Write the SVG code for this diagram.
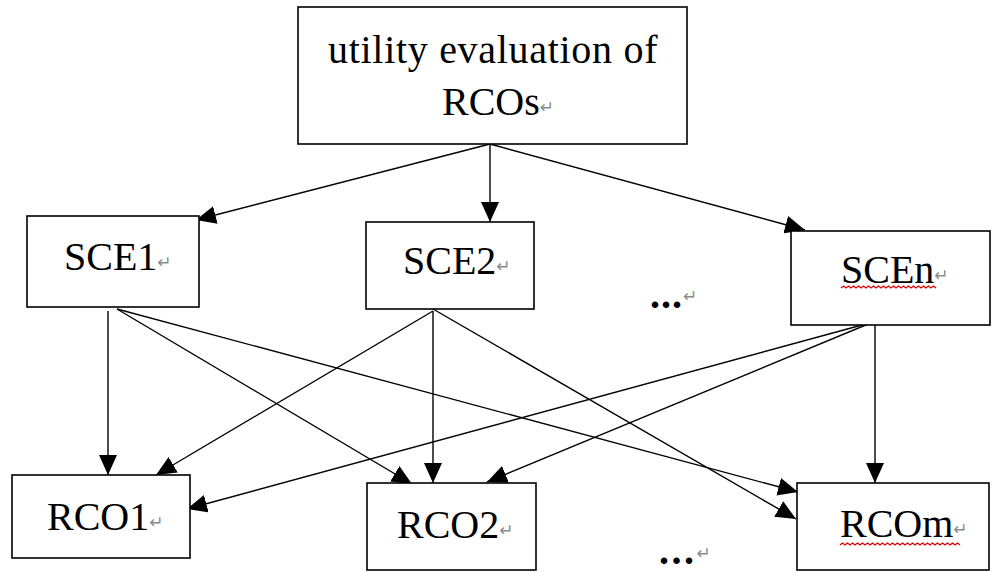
<svg xmlns="http://www.w3.org/2000/svg" width="992" height="572" viewBox="0 0 992 572">
  <style>
    .box { fill: #ffffff; stroke: #000000; stroke-width: 1.6; }
    .lbl { font-family: "Liberation Serif", "Times New Roman", serif; font-size: 40px; fill: #000000; }
    .ret { font-family: "DejaVu Sans", sans-serif; font-size: 17px; fill: #8a8a8a; font-weight: normal; letter-spacing: 0; }
    .dots { font-family: "Liberation Serif", "Times New Roman", serif; font-size: 40px; font-weight: bold; fill: #000000; }
    .wave { fill: none; stroke: #e00000; stroke-width: 1.2; }
    .edge { fill: none; stroke: #000000; stroke-width: 1.4; marker-end: url(#arrow); }
  </style>
  <defs>
    <marker id="arrow" viewBox="0 0 20 18" refX="20" refY="9" markerWidth="20" markerHeight="18" markerUnits="userSpaceOnUse" orient="auto">
      <path d="M0,0 L20,9 L0,18 Z" fill="#000000"/>
    </marker>
  </defs>

  <rect width="992" height="572" fill="#ffffff"/>

  <!-- connectors -->
  <g id="connectors">
    <line class="edge" x1="490" y1="144" x2="196" y2="220"/>
    <line class="edge" x1="490" y1="144" x2="490" y2="222"/>
    <line class="edge" x1="490" y1="144" x2="805" y2="230"/>

    <line class="edge" x1="108" y1="311" x2="108" y2="475"/>
    <line class="edge" x1="117" y1="309" x2="412" y2="484"/>
    <line class="edge" x1="117" y1="309" x2="798" y2="492"/>

    <line class="edge" x1="433" y1="311" x2="156" y2="475"/>
    <line class="edge" x1="433" y1="311" x2="433" y2="483"/>
    <line class="edge" x1="433" y1="309" x2="796" y2="519"/>

    <line class="edge" x1="873" y1="322" x2="187" y2="509"/>
    <line class="edge" x1="873" y1="322" x2="487" y2="482"/>
    <line class="edge" x1="875" y1="322" x2="875" y2="483"/>
  </g>

  <g id="top">
    <rect class="box" x="298" y="7" width="389" height="137"/>
    <text class="lbl" x="328" y="63" letter-spacing="0.7">utility evaluation of</text>
    <text class="lbl" x="442" y="115">RCOs<tspan class="ret" dy="-2">↵</tspan></text>
  </g>

  <g id="sce1">
    <rect class="box" x="27" y="216" width="172" height="91"/>
    <text class="lbl" x="64" y="270">SCE1<tspan class="ret" dy="-2">↵</tspan></text>
  </g>

  <g id="sce2">
    <rect class="box" x="366" y="222" width="168" height="87"/>
    <text class="lbl" x="403" y="274">SCE2<tspan class="ret" dy="-2">↵</tspan></text>
  </g>

  <g id="scen">
    <rect class="box" x="791" y="231" width="199" height="94"/>
    <text class="lbl" x="841" y="283">SCEn<tspan class="ret" dy="-2">↵</tspan></text>
    <path class="wave" d="M841,288 l2.5,-2 l2.5,2 l2.5,-2 l2.5,2 l2.5,-2 l2.5,2 l2.5,-2 l2.5,2 l2.5,-2 l2.5,2 l2.5,-2 l2.5,2 l2.5,-2 l2.5,2 l2.5,-2 l2.5,2 l2.5,-2 l2.5,2 l2.5,-2 l2.5,2 l2.5,-2 l2.5,2 l2.5,-2 l2.5,2 l2.5,-2 l2.5,2 l2.5,-2 l2.5,2 l2.5,-2 l2.5,2 l2.5,-2 l2.5,2 l2.5,-2 l2.5,2 l2.5,-2 l2.5,2 l2.5,-2 l2.5,2"/>
  </g>

  <g id="gap-sce">
    <text class="dots" x="650" y="308" letter-spacing="1">...<tspan class="ret" dy="-6">↵</tspan></text>
  </g>

  <g id="rco1">
    <rect class="box" x="12" y="475" width="178" height="83"/>
    <text class="lbl" x="47" y="530">RCO1<tspan class="ret" dy="-2">↵</tspan></text>
  </g>

  <g id="rco2">
    <rect class="box" x="367" y="483" width="169" height="87"/>
    <text class="lbl" x="397" y="538">RCO2<tspan class="ret" dy="-2">↵</tspan></text>
  </g>

  <g id="rcom">
    <rect class="box" x="797" y="483" width="192" height="87"/>
    <text class="lbl" x="840" y="537">RCOm<tspan class="ret" dy="-2">↵</tspan></text>
    <path class="wave" d="M840,545 l2.5,-2 l2.5,2 l2.5,-2 l2.5,2 l2.5,-2 l2.5,2 l2.5,-2 l2.5,2 l2.5,-2 l2.5,2 l2.5,-2 l2.5,2 l2.5,-2 l2.5,2 l2.5,-2 l2.5,2 l2.5,-2 l2.5,2 l2.5,-2 l2.5,2 l2.5,-2 l2.5,2 l2.5,-2 l2.5,2 l2.5,-2 l2.5,2 l2.5,-2 l2.5,2 l2.5,-2 l2.5,2 l2.5,-2 l2.5,2 l2.5,-2 l2.5,2 l2.5,-2 l2.5,2 l2.5,-2 l2.5,2 l2.5,-2 l2.5,2 l2.5,-2 l2.5,2 l2.5,-2 l2.5,2 l2.5,-2 l2.5,2 l2.5,-2 l2.5,2"/>
  </g>

  <g id="gap-rco">
    <text class="dots" x="659" y="564" font-size="34" letter-spacing="2.5">...<tspan class="ret" dy="-5">↵</tspan></text>
  </g>
</svg>
